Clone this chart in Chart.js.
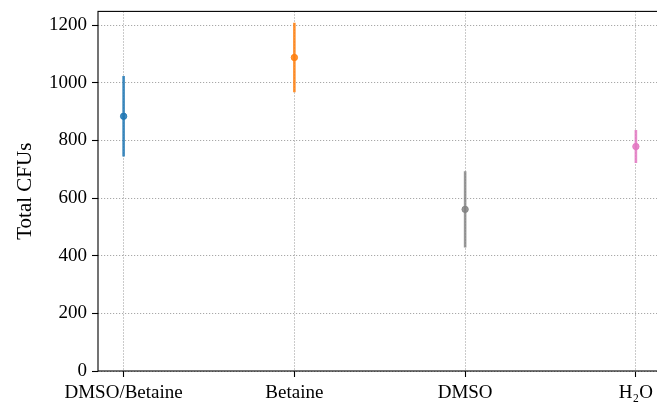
<!DOCTYPE html>
<html>
<head>
<meta charset="utf-8">
<script src="https://cdn.jsdelivr.net/npm/chart.js@4"></script>
<style>
  html, body { margin: 0; padding: 0; background: #fff; }
  #wrap { width: 657px; height: 404px; overflow: hidden; }
  #cfuChart { display: block; margin-top: -5px; }
</style>
</head>
<body>
<div id="wrap"><canvas id="cfuChart" width="680" height="409"></canvas></div>
<script>
// data
const categories = ['DMSO/Betaine', 'Betaine', 'DMSO', 'H\u2082O'];
const means = [884, 1088, 561, 779];
const errs = [140, 121, 132, 57];
const yTicks = [0, 200, 400, 600, 800, 1000, 1200];

const colors = [
  'rgba(31, 119, 180, 0.85)',
  'rgba(255, 127, 14, 0.85)',
  'rgba(127, 127, 127, 0.8)',
  'rgba(227, 119, 194, 0.85)'
];
const serif = "'Liberation Serif', 'DejaVu Serif', serif";

// one small line per category for the error bar
const errDatasets = categories.map((c, i) => ({
  type: 'line',
  data: [{ x: i, y: means[i] - errs[i] }, { x: i, y: means[i] + errs[i] }],
  borderColor: colors[i],
  borderWidth: 2.6,
  pointRadius: 0,
  order: 2
}));

const meanDataset = {
  type: 'scatter',
  data: means.map((m, i) => ({ x: i, y: m })),
  backgroundColor: colors,
  borderColor: colors,
  pointRadius: 3.2,
  order: 1
};

// axes box (top/right spines too)
const frame = {
  id: 'frame',
  beforeDatasetsDraw(chart) {
    const { ctx, chartArea: a } = chart;
    ctx.save();
    ctx.setLineDash([]);
    ctx.strokeStyle = '#000';
    ctx.lineWidth = 1.1;
    ctx.strokeRect(a.left, a.top, a.right - a.left, a.bottom - a.top);
    ctx.restore();
  }
};

const gridOpts = {
  color: '#a8a8a8',
  lineWidth: 1,
  tickColor: '#000',
  tickLength: 6,
  tickWidth: 1.1,
  tickBorderDash: []
};

const ctx = document.getElementById('cfuChart').getContext('2d');
new Chart(ctx, {
  data: { datasets: [...errDatasets, meanDataset] },
  options: {
    responsive: false,
    animation: false,
    layout: { padding: { top: 6, right: 18.5, left: 0, bottom: 0 } },
    plugins: { legend: { display: false }, tooltip: { enabled: false } },
    scales: {
      x: {
        type: 'linear',
        min: -0.15,
        max: 3.15,
        afterFit: s => { s.height = 33; },
        afterBuildTicks: s => { s.ticks = categories.map((c, i) => ({ value: i })); },
        ticks: {
          callback: v => categories[v],
          autoSkip: false,
          maxRotation: 0,
          padding: 5,
          color: '#000',
          font: { family: serif, size: 19 }
        },
        grid: gridOpts,
        border: { display: false, dash: [1.2, 1.8] }
      },
      y: {
        min: 0,
        max: 1248,
        afterFit: s => { s.width = 98; },
        afterBuildTicks: s => { s.ticks = yTicks.map(v => ({ value: v })); },
        ticks: {
          callback: v => String(v),
          padding: 5,
          color: '#000',
          font: { family: serif, size: 19 }
        },
        grid: gridOpts,
        border: { display: false, dash: [1.2, 1.8] },
        title: {
          display: true,
          text: 'Total CFUs',
          color: '#000',
          padding: { top: 13, bottom: 0 },
          font: { family: serif, size: 21 }
        }
      }
    }
  },
  plugins: [frame]
});
</script>
</body>
</html>
